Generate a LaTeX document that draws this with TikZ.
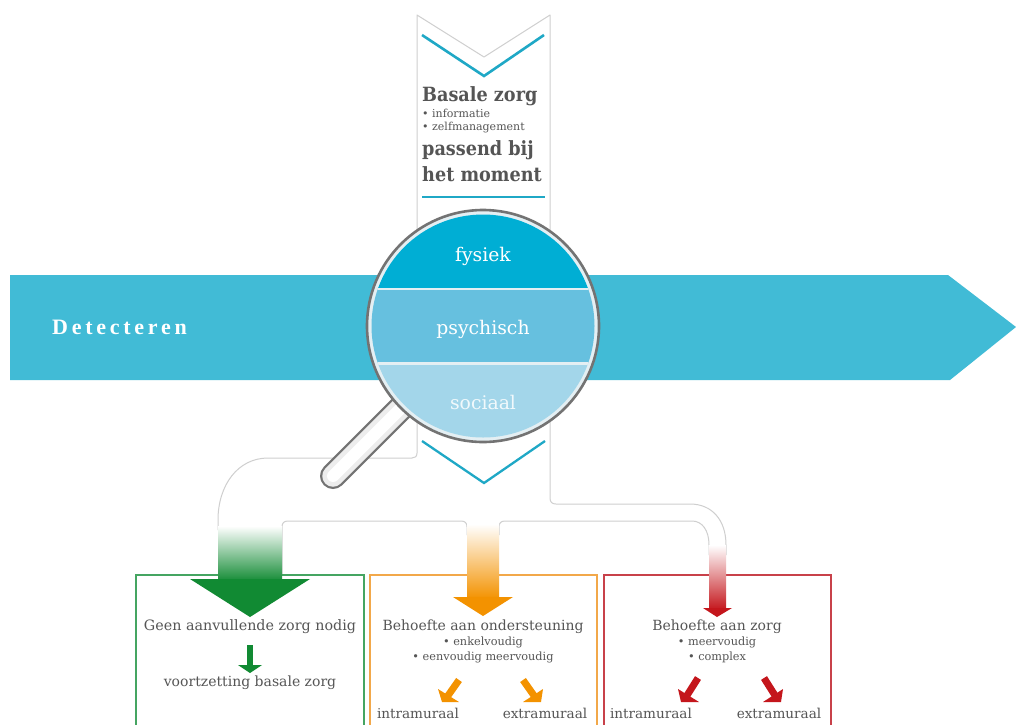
\documentclass[tikz,border=0pt]{standalone}
\usepackage{fontspec}
\setmainfont{DejaVu Serif}
\newfontfamily\slab{DejaVu Serif}
\newfontfamily\slabb[FakeStretch=0.9]{DejaVu Serif}
\newfontfamily\detect[LetterSpace=17]{Liberation Serif}
\definecolor{bandblue}{HTML}{41BBD6}
\definecolor{chev}{HTML}{1FA8C6}
\definecolor{fys}{HTML}{00AED4}
\definecolor{psy}{HTML}{66C0DF}
\definecolor{soc}{HTML}{A3D6EA}
\definecolor{txt}{HTML}{555555}
\definecolor{outl}{HTML}{CFCFCF}
\definecolor{grn}{HTML}{118A33}
\definecolor{org}{HTML}{F39200}
\definecolor{rd}{HTML}{C4161C}
\definecolor{grnb}{HTML}{45A562}
\definecolor{orgb}{HTML}{F2A84A}
\definecolor{rdb}{HTML}{C8414A}
\definecolor{ringc}{HTML}{E4EFF3}
\tikzset{
 x=1pt,y=-1pt,
 outline/.style={draw=outl,line width=1pt,line join=round},
 chevron/.style={draw=chev,line width=2.6pt,line join=miter},
 head/.style={font=\slabb\bfseries\fontsize{19.6}{20}\selectfont,text=txt,anchor=west,inner sep=0pt},
 sub/.style={font=\slab\fontsize{11}{11}\selectfont,text=txt,anchor=west,inner sep=0pt},
 body/.style={font=\slab\fontsize{14}{14}\selectfont,text=txt,inner sep=0pt},
 wide/.style={font=\slab\fontsize{14.3}{14.3}\selectfont,text=txt,inner sep=0pt},
 mural/.style={font=\slab\fontsize{13.6}{13.6}\selectfont,text=txt,inner sep=0pt},
 small/.style={font=\slab\fontsize{11.3}{11.3}\selectfont,text=txt,inner sep=0pt},
 lens/.style={font=\slab\fontsize{18.8}{18.8}\selectfont,inner sep=0pt},
 care/.style={line width=1.3pt,fill=white},
 shaft/.style={line width=7pt},
}
\begin{document}
\begin{tikzpicture}
\useasboundingbox (0,0) rectangle (1016,724);
\fill[white] (0,0) rectangle (1016,724);
% band
\fill[bandblue] (10,275) -- (948,275) -- (1016,327) -- (950,380) -- (10,380) -- cycle;
\node[font=\detect\bfseries\fontsize{22}{22}\selectfont,text=white,anchor=west,inner sep=0pt] (det) at (52,327) {Detecteren};
% outline
\draw[outline] (417,270) -- (417,15) -- (484,57) -- (550,15) -- (550,270);
\draw[outline] (417,385) -- (417,453) .. controls (417,456.5) and (415,458) .. (412,458) -- (268,458)
  .. controls (238,458) and (218,485) .. (218,520) -- (218,530);
\draw[outline] (550,385) -- (550,498) .. controls (550,502) and (552,504) .. (556,504) -- (690,504)
  .. controls (712,504) and (726,520) .. (726,545) -- (726,555);
\draw[outline] (282,580) -- (282,527) .. controls (282,523) and (284,521) .. (288,521) -- (461,521) .. controls (465,521) and (467,523) .. (467,527) -- (467,535);
\draw[outline] (499,535) -- (499,527) .. controls (499,523) and (501,521) .. (505,521) -- (692,521)
  .. controls (702,521) and (709,530) .. (709,545) -- (709,555);
% boxes
\draw[care,draw=grnb] (136,725) -- (136,575) -- (364,575) -- (364,725);
\draw[care,draw=orgb] (370,725) -- (370,575) -- (597,575) -- (597,725);
\draw[care,draw=rdb] (604,725) -- (604,575) -- (831,575) -- (831,725);
% large arrows
\shade[top color=white,bottom color=grn] (218,526) rectangle (282,582);
\fill[grn] (190,579) -- (310,579) -- (250,617) -- cycle;
\shade[top color=white,bottom color=org] (467,524) rectangle (499,599);
\fill[org] (453,597) -- (513,597) -- (483,616) -- cycle;
\shade[top color=white,bottom color=rd] (709,545) rectangle (726,610);
\fill[rd] (703,608) -- (732,608) -- (717,617) -- cycle;
% chevrons and top text
\draw[chevron] (422,35) -- (484,76) -- (544,35);
\draw[chevron] (422,197) -- (545,197);
\draw[chevron,line width=2.3pt] (422,441) -- (484,483) -- (545,441);
\node[head] (basale) at (422,96) {Basale zorg};
\node[sub] (info) at (422,113) {• informatie};
\node[sub] (zelf) at (422,128) {• zelfmanagement};
\node[head] (pass) at (422,150) {passend bij};
\node[head] (mom) at (422,174) {het moment};
% magnifier
\draw[draw=black!55,line width=26pt,line cap=round] (402,407) -- (333,476);
\draw[draw=black!7,line width=21.5pt,line cap=round] (402,407) -- (333,476);
\draw[draw=white,line width=12pt,line cap=round] (402,407) -- (333,476);
\fill[ringc] (483,326) circle[radius=116];
\begin{scope}
 \clip (483,326) circle[radius=111.5];
 \fill[fys] (360,200) rectangle (610,288);
 \fill[psy] (360,288) rectangle (610,363);
 \fill[soc] (360,363) rectangle (610,450);
 \fill[ringc] (360,287.5) rectangle (610,290);
 \fill[ringc] (360,362) rectangle (610,364.5);
\end{scope}
\draw[draw=black!55,line width=2.6pt] (483,326) circle[radius=116];
\node[lens,text=white] (fysiek) at (483,256) {fysiek};
\node[lens,text=white] (psychisch) at (483,329) {psychisch};
\node[lens,text=white!85!soc] (sociaal) at (483,402) {sociaal};
% box texts
\node[wide] (geen) at (250,627) {Geen aanvullende zorg nodig};
\node[body] (voort) at (250,683) {voortzetting basale zorg};
\node[body] (bo) at (483,627) {Behoefte aan ondersteuning};
\node[small] (enk) at (483,642) {• enkelvoudig};
\node[small] (een) at (483,657) {• eenvoudig meervoudig};
\node[mural] (i1) at (418,713) {intramuraal};
\node[mural] (e1) at (545,713) {extramuraal};
\node[body] (bz) at (717,627) {Behoefte aan zorg};
\node[small] (mv) at (717,642) {• meervoudig};
\node[small] (co) at (717,657) {• complex};
\node[mural] (i2) at (651,713) {intramuraal};
\node[mural] (e2) at (779,713) {extramuraal};
% small arrows
\fill[grn] (247,645) rectangle (253,666);
\fill[grn] (238,665) -- (262,665) -- (250,673) -- cycle;
\draw[org,shaft] (459,680) -- (447,697);
\fill[org] (438,689) -- (459,702) -- (442,702) -- cycle;
\draw[org,shaft] (523,680) -- (535,697);
\fill[org] (543,689) -- (523,702) -- (541,702) -- cycle;
\draw[rd,shaft] (698,678) -- (686,697);
\fill[rd] (678,689) -- (699,702) -- (681,702) -- cycle;
\draw[rd,shaft] (764,678) -- (776,697);
\fill[rd] (783,689) -- (763,702) -- (781,702) -- cycle;
\end{tikzpicture}
\end{document}
